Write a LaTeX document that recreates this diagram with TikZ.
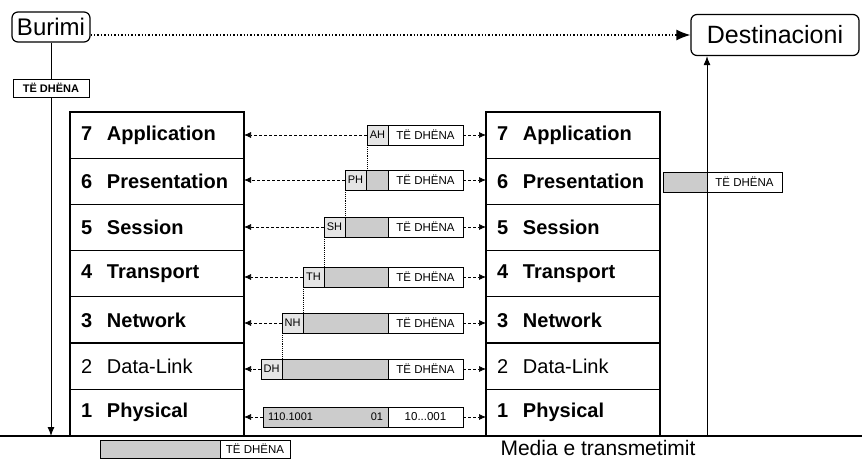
\documentclass[tikz,border=0pt]{standalone}
\usepackage{fontspec}
\setmainfont{Liberation Sans}
\usetikzlibrary{arrows.meta,positioning}

\begin{document}
\begin{tikzpicture}[x=1pt, y=-1pt, node distance=0pt,
  layer/.style={draw, line width=1.1pt, outer sep=0pt, minimum width=174pt, minimum height=46.2pt, text width=152pt, inner xsep=11pt, align=left, font=\fontsize{20}{22}\selectfont\bfseries},
  endpt/.style={draw, rounded corners=6pt, line width=1.2pt, inner xsep=5pt},
  data/.style={draw, fill=white, line width=0.9pt, outer sep=0pt, minimum width=75pt, minimum height=20pt, inner sep=0pt, font=\fontsize{11.5}{12}\selectfont},
  hdr/.style={draw, fill=black!10, line width=0.9pt, outer sep=0pt, minimum width=21pt, minimum height=20pt, inner sep=0pt, font=\fontsize{11}{12}\selectfont},
  pad/.style={draw, fill=black!20, line width=0.9pt, outer sep=0pt, minimum height=20pt, inner sep=0pt},
  link/.style={densely dashed, line width=0.7pt, -{Latex[length=7pt,width=6pt]}},
  hop/.style={densely dotted, line width=0.9pt},
  flow/.style={line width=1pt, -{Latex[length=9pt,width=7pt]}}]
  \useasboundingbox (0,0) rectangle (862,460);

  % end points
  \node[endpt, minimum height=30pt, font=\fontsize{24}{26}\selectfont] (src) at (51,27) {Burimi};
  \node[endpt, minimum width=168pt, minimum height=41pt, font=\fontsize{25}{27}\selectfont] (dst) at (775,35) {Destinacioni};
  \draw[dotted, line width=1.4pt, -{Latex[length=14pt,width=11pt]}] (src.east |- dst.west) -- (dst.west);

  % medium
  \coordinate (m0) at (0,436);
  \coordinate (m1) at (862,436);
  \draw[line width=1.2pt] (m0) -- (m1);
  \node[font=\fontsize{21}{23}\selectfont, inner sep=0pt] (media) at (598,448) {Media e transmetimit};

  \coordinate (srcfoot) at (51,436);
  \coordinate (dstfoot) at (707,436);
  \draw[flow] (src.south) -- (srcfoot);
  \draw[flow] (dstfoot) -- (dstfoot |- dst.south);
  \node[data, minimum width=76pt, minimum height=18pt, font=\fontsize{11}{12}\selectfont\bfseries] (top) at (51,88) {TË DHËNA};

  % sending stack
  \node[layer, anchor=north west] (L7) at (70,112) {\makebox[26pt][l]{7}Application};
  \node[layer, below=of L7] (L6) {\makebox[26pt][l]{6}Presentation};
  \node[layer, below=of L6] (L5) {\makebox[26pt][l]{5}Session};
  \node[layer, below=of L5] (L4) {\makebox[26pt][l]{4}Transport};
  \node[layer, below=of L4] (L3) {\makebox[26pt][l]{3}Network};
  \node[layer, below=of L3, font=\fontsize{20}{22}\selectfont] (L2) {\makebox[26pt][l]{2}Data-Link};
  \node[layer, below=of L2] (L1) {\makebox[26pt][l]{1}Physical};

  % receiving stack
  \node[layer, anchor=north west] (R7) at (486,112) {\makebox[26pt][l]{7}Application};
  \node[layer, below=of R7] (R6) {\makebox[26pt][l]{6}Presentation};
  \node[layer, below=of R6] (R5) {\makebox[26pt][l]{5}Session};
  \node[layer, below=of R5] (R4) {\makebox[26pt][l]{4}Transport};
  \node[layer, below=of R4] (R3) {\makebox[26pt][l]{3}Network};
  \node[layer, below=of R3, font=\fontsize{20}{22}\selectfont] (R2) {\makebox[26pt][l]{2}Data-Link};
  \node[layer, below=of R2] (R1) {\makebox[26pt][l]{1}Physical};

  % packets between the stacks
  \node[data, anchor=east] (D7) at (463,135) {TË DHËNA};
  \node[hdr, left=of D7] (H7) {AH};

  \node[data, anchor=east] (D6) at (463,180) {TË DHËNA};
  \node[pad, minimum width=22pt, left=of D6] (P6) {};
  \node[hdr, left=of P6] (H6) {PH};

  \node[data, anchor=east] (D5) at (463,227) {TË DHËNA};
  \node[pad, minimum width=43pt, left=of D5] (P5) {};
  \node[hdr, left=of P5] (H5) {SH};

  \node[data, anchor=east] (D4) at (463,277) {TË DHËNA};
  \node[pad, minimum width=64pt, left=of D4] (P4) {};
  \node[hdr, left=of P4] (H4) {TH};

  \node[data, anchor=east] (D3) at (463,323) {TË DHËNA};
  \node[pad, minimum width=85pt, left=of D3] (P3) {};
  \node[hdr, left=of P3] (H3) {NH};

  \node[data, anchor=east] (D2) at (463,369) {TË DHËNA};
  \node[pad, minimum width=106pt, left=of D2] (P2) {};
  \node[hdr, left=of P2] (H2) {DH};

  \node[data, anchor=east] (D1) at (463,417) {10...001};
  \node[pad, minimum width=125pt, text width=115pt, align=left, font=\fontsize{11}{12}\selectfont, left=of D1] (B1) {110.1001\hfill 01};

  % peer links
  \draw[link] (H7.west) -- (H7.west -| L7.east);
  \draw[link] (H6.west) -- (H6.west -| L6.east);
  \draw[link] (H5.west) -- (H5.west -| L5.east);
  \draw[link] (H4.west) -- (H4.west -| L4.east);
  \draw[link] (H3.west) -- (H3.west -| L3.east);
  \draw[link] (H2.west) -- (H2.west -| L2.east);
  \draw[link] (B1.west) -- (B1.west -| L1.east);
  \draw[link] (D7.east) -- (D7.east -| R7.west);
  \draw[link] (D6.east) -- (D6.east -| R6.west);
  \draw[link] (D5.east) -- (D5.east -| R5.west);
  \draw[link] (D4.east) -- (D4.east -| R4.west);
  \draw[link] (D3.east) -- (D3.east -| R3.west);
  \draw[link] (D2.east) -- (D2.east -| R2.west);
  \draw[link] (D1.east) -- (D1.east -| R1.west);

  % header hand-over
  \draw[hop] (H7.south west) -- (H7.south west |- H6.north);
  \draw[hop] (H6.south west) -- (H6.south west |- H5.north);
  \draw[hop] (H5.south west) -- (H5.south west |- H4.north);
  \draw[hop] (H4.south west) -- (H4.south west |- H3.north);
  \draw[hop] (H3.south west) -- (H3.south west |- H2.north);

  % data beside the stacks
  \node[data, anchor=west] (Dr) at (707,182) {TË DHËNA};
  \node[pad, minimum width=44pt, left=of Dr] (Pr) {};
  \node[data, anchor=west, minimum width=70pt, minimum height=18pt] (Db) at (220,449) {TË DHËNA};
  \node[pad, minimum width=120pt, minimum height=18pt, left=of Db] (Pb) {};
\end{tikzpicture}
\end{document}
